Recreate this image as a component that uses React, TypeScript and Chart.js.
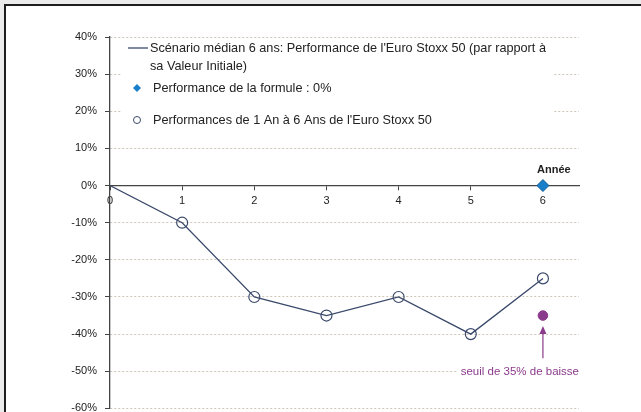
import React, { useEffect, useRef } from "react";
import { Chart, registerables } from "chart.js";

Chart.register(...registerables);

const years = [0, 1, 2, 3, 4, 5, 6];
const medianScenario = [0, -10, -30, -35, -30, -40, -25];
const yearlyPerfYears = [1, 2, 3, 4, 5, 6];
const yearlyPerf = [-10, -30, -35, -30, -40, -25];
const formulaYear = [6];
const formulaPerf = [0];
const thresholdYear = [6];
const thresholdPerf = [-35];
const yTicks = [40, 30, 20, 10, 0, -10, -20, -30, -40, -50, -60];
const xTickLabels = ["0", "1", "2", "3", "4", "5", "6"];
const legendLine1 = "Scénario médian 6 ans: Performance de l'Euro Stoxx 50 (par rapport à";
const legendLine2 = "sa Valeur Initiale)";
const legendDiamond = "Performance de la formule : 0%";
const legendCircle = "Performances de 1 An à 6 Ans de l'Euro Stoxx 50";
const axisTitle = "Année";
const annotationText = "seuil de 35% de baisse";
const arrowFrom = -46.5;
const arrowTo = -37.8;
const labelAt = -50;

const FONT = "'Liberation Sans', Arial, sans-serif";
const NAVY = "#3b4a6b";
const BLUE = "#1a7fc9";
const PURPLE = "#8b3b8b";

const decor = {
  id: "decor",
  beforeDraw(chart: any) {
    const { ctx, width, height } = chart;
    ctx.save();
    ctx.fillStyle = "#ffffff";
    ctx.fillRect(0, 0, width, height);
    ctx.fillStyle = "#ebebeb";
    ctx.fillRect(0, 0, width, 4);
    ctx.fillRect(0, 0, 4, height);
    ctx.fillStyle = "#1e1e1e";
    ctx.fillRect(4, 4, width - 4, 2);
    ctx.fillRect(4, 4, 2, height - 4);
    ctx.restore();
  },
  afterDraw(chart: any) {
    const { ctx, chartArea } = chart;
    const xs = chart.scales.x;
    const ys = chart.scales.y;
    const L = chartArea.left;
    ctx.save();
    // legend box
    ctx.fillStyle = "#ffffff";
    ctx.fillRect(L + 11, 41, 432, 99);
    ctx.fillStyle = "#222";
    ctx.font = "12.7px " + FONT;
    ctx.textBaseline = "middle";
    ctx.textAlign = "left";
    ctx.strokeStyle = NAVY;
    ctx.lineWidth = 1.3;
    ctx.beginPath();
    ctx.moveTo(L + 18, 48);
    ctx.lineTo(L + 38, 48);
    ctx.stroke();
    ctx.fillText(legendLine1, L + 40, 48);
    ctx.fillText(legendLine2, L + 40, 66);
    // diamond
    const dx = L + 27, dy = 88;
    ctx.fillStyle = BLUE;
    ctx.beginPath();
    ctx.moveTo(dx, dy - 4);
    ctx.lineTo(dx + 4, dy);
    ctx.lineTo(dx, dy + 4);
    ctx.lineTo(dx - 4, dy);
    ctx.closePath();
    ctx.fill();
    ctx.fillStyle = "#222";
    ctx.fillText(legendDiamond, L + 43, 88);
    // circle
    ctx.strokeStyle = NAVY;
    ctx.lineWidth = 1;
    ctx.beginPath();
    ctx.arc(dx, 120, 3.5, 0, Math.PI * 2);
    ctx.stroke();
    ctx.fillText(legendCircle, L + 43, 120);

    // axis title
    ctx.font = "bold 11px " + FONT;
    ctx.textAlign = "center";
    ctx.fillStyle = "#222";
    ctx.fillText(axisTitle, xs.getPixelForValue(thresholdYear[0]) + 11, ys.getPixelForValue(0) - 16);

    // arrow
    const ax = xs.getPixelForValue(thresholdYear[0]);
    const y1 = ys.getPixelForValue(arrowFrom);
    const y2 = ys.getPixelForValue(arrowTo);
    ctx.strokeStyle = PURPLE;
    ctx.fillStyle = PURPLE;
    ctx.lineWidth = 1.2;
    ctx.beginPath();
    ctx.moveTo(ax, y1);
    ctx.lineTo(ax, y2 + 6);
    ctx.stroke();
    ctx.beginPath();
    ctx.moveTo(ax, y2);
    ctx.lineTo(ax - 3.5, y2 + 8);
    ctx.lineTo(ax + 3.5, y2 + 8);
    ctx.closePath();
    ctx.fill();

    // label
    ctx.font = "11.5px " + FONT;
    const tw = ctx.measureText(annotationText).width;
    const ly = ys.getPixelForValue(labelAt) + 1;
    const rx = chartArea.right;
    ctx.fillStyle = "#ffffff";
    ctx.fillRect(rx - tw - 3, ly - 7, tw + 3, 14);
    ctx.fillStyle = PURPLE;
    ctx.textAlign = "right";
    ctx.fillText(annotationText, rx, ly);
    ctx.restore();
  },
};

export default function App() {
  const ref = useRef<HTMLCanvasElement | null>(null);
  useEffect(() => {
    if (!ref.current) return;
    const chart = new Chart(ref.current, {
      type: "scatter",
      data: {
        datasets: [
          {
            label: "purple",
            data: thresholdYear.map((x, i) => ({ x, y: thresholdPerf[i] })),
            pointRadius: 4.8,
            pointBackgroundColor: PURPLE,
            pointBorderColor: PURPLE,
            order: 1,
          },
          {
            label: "formule",
            data: formulaYear.map((x, i) => ({ x, y: formulaPerf[i] })),
            pointStyle: "rectRot",
            pointRadius: 6,
            pointBackgroundColor: BLUE,
            pointBorderColor: "#135f99",
            pointBorderWidth: 1,
            order: 2,
          },
          {
            label: "circles",
            data: yearlyPerfYears.map((x, i) => ({ x, y: yearlyPerf[i] })),
            pointRadius: 5.5,
            pointBackgroundColor: "rgba(255,255,255,0)",
            pointBorderColor: NAVY,
            pointBorderWidth: 1.2,
            order: 3,
          },
          {
            label: "median",
            data: years.map((x, i) => ({ x, y: medianScenario[i] })),
            showLine: true,
            borderColor: NAVY,
            borderWidth: 1.3,
            pointRadius: 0,
            order: 4,
          },
        ],
      },
      options: {
        animation: false,
        responsive: false,
        devicePixelRatio: 1,
        layout: { padding: { left: 0, top: 37, right: 62, bottom: 0 } },
        plugins: { legend: { display: false }, tooltip: { enabled: false } },
        scales: {
          x: {
            type: "linear",
            min: 0,
            max: 6.5,
            position: { y: 0 },
            afterBuildTicks: (s: any) => {
              s.ticks = years.map((v) => ({ value: v }));
            },
            afterFit: (s: any) => {
              s.height = 0;
            },
            ticks: {
              callback: (v: any) => xTickLabels[years.indexOf(Number(v))] ?? "",
              font: { family: FONT, size: 11 },
              color: "#222",
              padding: 5,
              maxRotation: 0,
            },
            grid: { drawOnChartArea: false, drawTicks: true, tickLength: 4, tickColor: "#444" },
            border: { color: "#444", width: 1.3 },
          },
          y: {
            type: "linear",
            min: -60,
            max: 40,
            afterBuildTicks: (s: any) => {
              s.ticks = yTicks.map((v) => ({ value: v }));
            },
            afterFit: (s: any) => {
              s.width = 110;
            },
            ticks: {
              callback: (v: any) => v + "%",
              font: { family: FONT, size: 11 },
              color: "#222",
              padding: 8,
            },
            grid: {
              color: "#cdc5b6",
              lineWidth: 1,
              tickLength: 5,
              tickColor: "#444",
              tickBorderDash: [],
            },
            border: { color: "#444", width: 1.3, dash: [2, 2] },
          },
        },
      },
      plugins: [decor],
    } as any);
    return () => chart.destroy();
  }, []);
  return (
    <canvas
      ref={ref}
      width={641}
      height={423}
      style={{ position: "fixed", left: 0, top: 0, width: 641, height: 423 }}
    />
  );
}
